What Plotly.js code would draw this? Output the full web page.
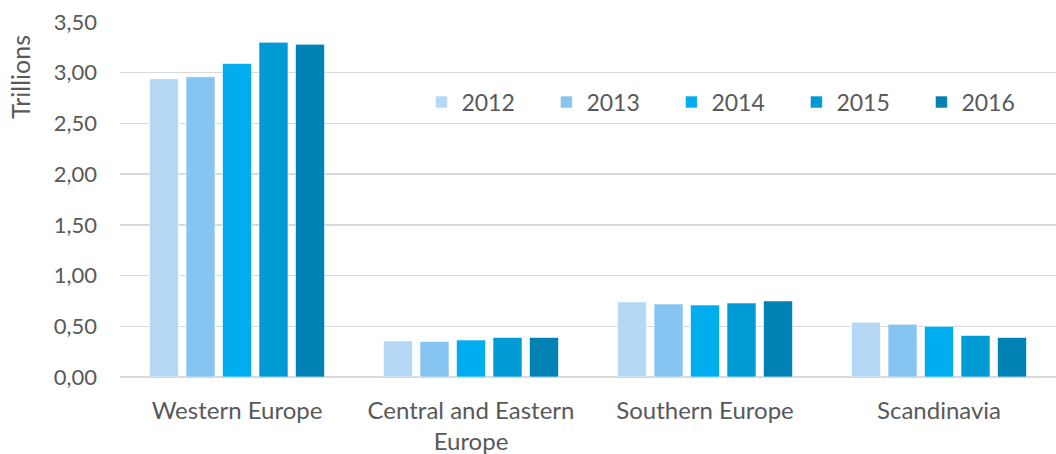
<!DOCTYPE html>
<html><head><meta charset="utf-8">
<script src="https://cdn.plot.ly/plotly-3.0.1.min.js"></script>
<style>html,body{margin:0;padding:0;background:#fff}#chart{width:1056px;height:454px}</style>
</head><body><div id="chart"></div>
<script>
const categories = ["Western Europe", "Central and Eastern<br>Europe", "Southern Europe", "Scandinavia"];
const years = ["2012", "2013", "2014", "2015", "2016"];
const v2012 = [2.94, 0.355, 0.74, 0.54];
const v2013 = [2.96, 0.35, 0.72, 0.52];
const v2014 = [3.09, 0.365, 0.71, 0.50];
const v2015 = [3.30, 0.39, 0.73, 0.41];
const v2016 = [3.28, 0.39, 0.75, 0.39];
const colors = ["#B5D8F5", "#86C4F2", "#00ADEE", "#009BD5", "#0082B5"];
const yTicks = [0, 0.5, 1, 1.5, 2, 2.5, 3, 3.5];
const yTitle = "Trillions";

const series = [v2012, v2013, v2014, v2015, v2016];
const data = series.map((vals, i) => ({
  type: "bar", name: years[i], x: categories, y: vals,
  marker: {color: colors[i], line: {color: "rgba(255,255,255,0.6)", width: 1}},
  hoverinfo: "skip"
}));

const font = "Lato, 'Noto Sans', sans-serif";
const layout = {
  width: 1056, height: 454,
  margin: {l: 120, r: 0, t: 22, b: 77, autoexpand: false},
  paper_bgcolor: "#fff", plot_bgcolor: "#fff",
  separators: ", ",
  barmode: "group", bargap: 0.22, bargroupgap: 0.205,
  font: {family: font, size: 22, color: "#595959"},
  xaxis: {
    type: "category", tickfont: {size: 24, color: "#595959"},
    showgrid: false, showline: false, zeroline: false, ticks: "", ticklen: 0,
    ticklabelstandoff: 17
  },
  yaxis: {
    range: [0, 3.5], tickvals: yTicks, tickformat: ".2f",
    showgrid: true, gridcolor: "#D9D9D9", gridwidth: 1.5,
    zeroline: true, zerolinecolor: "#D9D9D9", zerolinewidth: 1.5,
    showline: false, ticks: "", tickfont: {size: 22, color: "#595959"},
    ticklabelstandoff: 22
  },
  annotations: [{
    text: yTitle, textangle: -90, showarrow: false,
    xref: "paper", yref: "paper", x: -0.107, y: 0.845,
    xanchor: "center", yanchor: "middle",
    font: {size: 25, color: "#595959"}
  }],
  showlegend: true,
  legend: {
    orientation: "h", x: 0.322, xanchor: "left", y: 0.835, yanchor: "top",
    font: {size: 23, color: "#595959"}, entrywidth: 80, entrywidthmode: "pixels",
    bgcolor: "rgba(255,255,255,0)", itemclick: false, traceorder: "normal"
  }
};
Plotly.newPlot("chart", data, layout, {displayModeBar: false, staticPlot: true});
</script></body></html>
